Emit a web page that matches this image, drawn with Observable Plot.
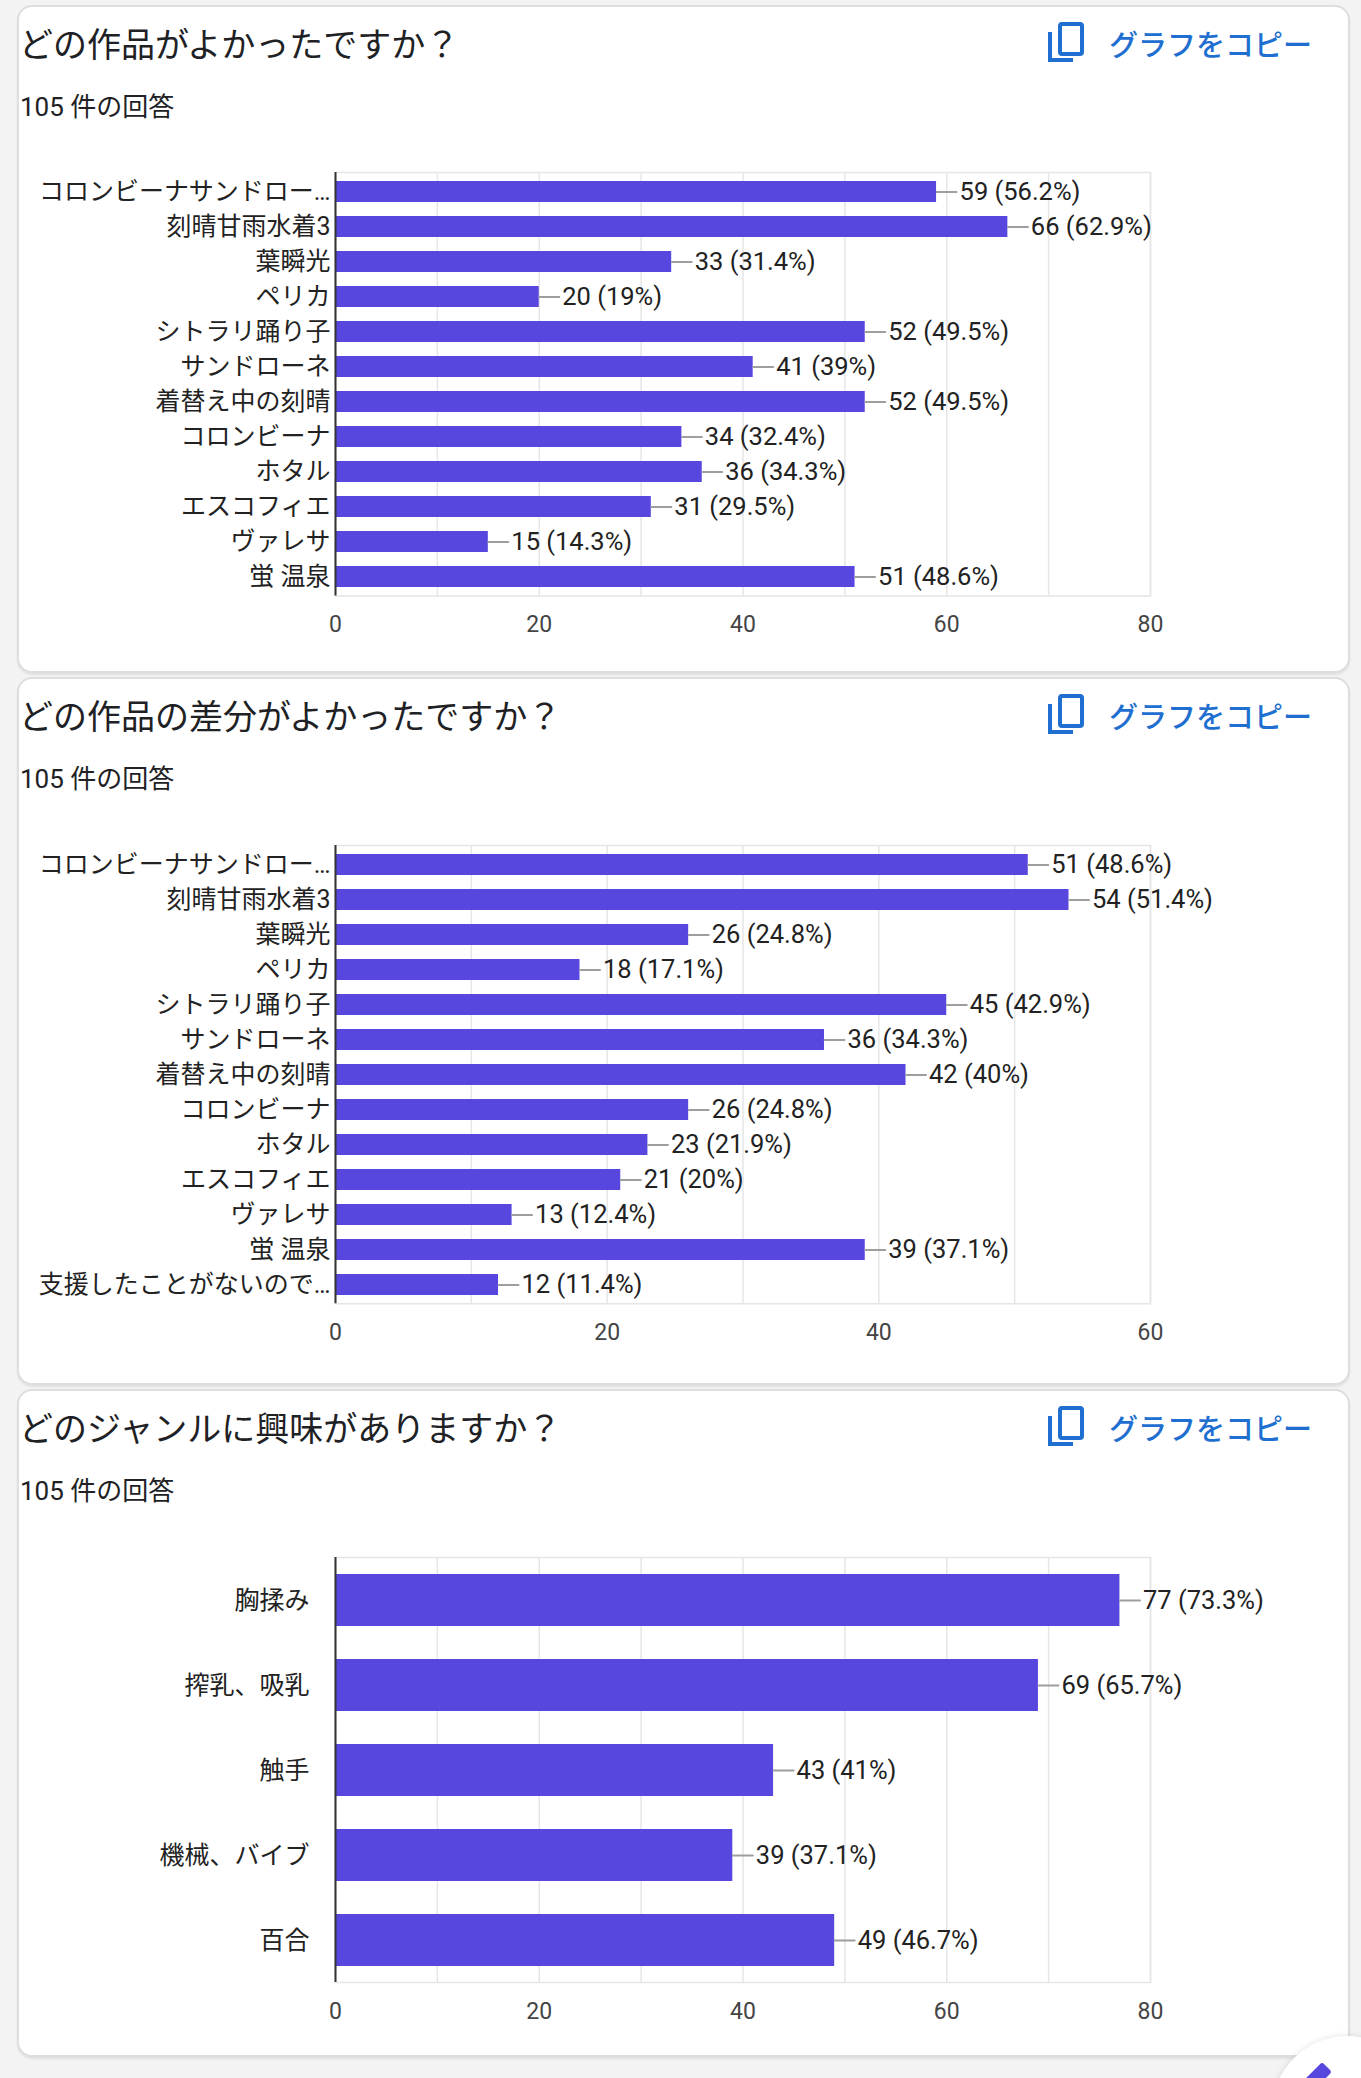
<!DOCTYPE html>
<html>
<head>
<meta charset="utf-8">
<script src="https://cdn.jsdelivr.net/npm/d3@7"></script>
<script src="https://cdn.jsdelivr.net/npm/@observablehq/plot@0.6"></script>
<style>
  html, body { margin: 0; padding: 0; }
  body { width: 1361px; height: 2078px; position: relative; background: #f3f3f3; overflow: hidden;
         font-family: Roboto, "Noto Sans CJK JP", sans-serif; }
  .card { position: absolute; left: 17px; width: 1333px; background: #fff; border: 2px solid #dedede;
          border-radius: 15px; box-sizing: border-box; box-shadow: 0 2px 2px rgba(0,0,0,0.08); }
  .title { position: absolute; left: 0px; font-family: "Noto Sans CJK JP", sans-serif; font-size: 34px; color: #202124; line-height: 1; white-space: nowrap; }
  .sub { position: absolute; left: 1px; font-size: 26px; color: #202124; line-height: 1; white-space: nowrap; }
  .copy { position: absolute; left: 1029px; display: flex; align-items: center; color: #1f6fd0;
          font-family: "Noto Sans CJK JP", sans-serif; font-size: 29px; font-weight: 500; white-space: nowrap; }
  .copy svg { margin-right: 25px; }
  .chart { position: absolute; left: 0; }
  .fab { position: absolute; left: 1272px; top: 2036px; width: 150px; height: 150px; border-radius: 50%;
         background: #fff; box-shadow: 0 0 6px rgba(0,0,0,0.12); }
  .pen { position: absolute; left: 36px; top: 26px; width: 14px; height: 34px; background: #5847df;
         transform: rotate(45deg); border-radius: 3px; }
</style>
</head>
<body>
<div id="root"></div>
<script>
// ---- data ----
const titles = ["どの作品がよかったですか？", "どの作品の差分がよかったですか？", "どのジャンルに興味がありますか？"];
const subtitle = "105 件の回答";
const copyLabel = "グラフをコピー";

const names1 = ["コロンビーナサンドロー…", "刻晴甘雨水着3", "葉瞬光", "ペリカ", "シトラリ踊り子", "サンドローネ", "着替え中の刻晴", "コロンビーナ", "ホタル", "エスコフィエ", "ヴァレサ", "蛍 温泉"];
const counts1 = [59, 66, 33, 20, 52, 41, 52, 34, 36, 31, 15, 51];
const pcts1 = ["56.2", "62.9", "31.4", "19", "49.5", "39", "49.5", "32.4", "34.3", "29.5", "14.3", "48.6"];
const ticks1 = [0, 20, 40, 60, 80];

const names2 = ["コロンビーナサンドロー…", "刻晴甘雨水着3", "葉瞬光", "ペリカ", "シトラリ踊り子", "サンドローネ", "着替え中の刻晴", "コロンビーナ", "ホタル", "エスコフィエ", "ヴァレサ", "蛍 温泉", "支援したことがないので…"];
const counts2 = [51, 54, 26, 18, 45, 36, 42, 26, 23, 21, 13, 39, 12];
const pcts2 = ["48.6", "51.4", "24.8", "17.1", "42.9", "34.3", "40", "24.8", "21.9", "20", "12.4", "37.1", "11.4"];
const ticks2 = [0, 20, 40, 60];

const names3 = ["胸揉み", "搾乳、吸乳", "触手", "機械、バイブ", "百合"];
const counts3 = [77, 69, 43, 39, 49];
const pcts3 = ["73.3", "65.7", "41", "37.1", "46.7"];
const ticks3 = [0, 20, 40, 60, 80];

// ---- layout ----
const W = 1361;
const cards = [
  {top: 5, bottom: 673, gridTop: 172, step: 35.3, pad: 0.4, labelPad: 5, names: names1, counts: counts1, pcts: pcts1, ticks: ticks1},
  {top: 677, bottom: 1385, gridTop: 845, step: 35.25, pad: 0.4, labelPad: 5, names: names2, counts: counts2, pcts: pcts2, ticks: ticks2},
  {top: 1389, bottom: 2057, gridTop: 1557, step: 85, pad: 0.39, labelPad: 26, names: names3, counts: counts3, pcts: pcts3, ticks: ticks3}
];

const copyIcon = `<svg width="36" height="42" viewBox="0 0 36 42"><path d="M2 10 V38 H25" fill="none" stroke="#1f6fd0" stroke-width="4"/><rect x="12" y="2" width="22" height="30" rx="2" fill="none" stroke="#1f6fd0" stroke-width="4"/></svg>`;

cards.forEach((c, i) => {
  const card = document.createElement("div");
  card.className = "card";
  card.style.top = c.top + "px";
  card.style.height = (c.bottom - c.top) + "px";
  card.innerHTML = `<div class="title" style="top:19px">${titles[i]}</div>
    <div class="sub" style="top:87px">${subtitle}</div>
    <div class="copy" style="top:15px">${copyIcon}<span>${copyLabel}</span></div>`;
  document.body.appendChild(card);

  const data = c.names.map((n, k) => ({name: n, count: c.counts[k], pct: c.pcts[k]}));
  const max = c.ticks[c.ticks.length - 1];
  const h = c.names.length * c.step;
  const mt = 10, mb = 60;
  const plot = Plot.plot({
    width: W,
    height: mt + h + mb,
    marginLeft: 335,
    marginRight: W - 1150,
    marginTop: mt,
    marginBottom: mb,
    style: {fontFamily: "Roboto, 'Noto Sans CJK JP', sans-serif", background: "transparent", overflow: "visible"},
    x: {domain: [0, max], axis: null},
    y: {domain: c.names, paddingInner: c.pad, paddingOuter: c.pad / 2, axis: null},
    marks: [
      Plot.gridX({interval: 10, stroke: "#e6e6e6", strokeOpacity: 1, strokeWidth: 1.5}),
      Plot.frame({stroke: "#e6e6e6", strokeWidth: 1.5}),
      Plot.barX(data, {x: "count", y: "name", fill: "#5847df"}),
      Plot.vector(data, {x: "count", y: "name", length: 20, rotate: 90, anchor: "start", r: 0, stroke: "#9e9e9e", strokeWidth: 2}),
      Plot.text(data, {x: "count", y: "name", text: d => `${d.count} (${d.pct}%)`, dx: 23, textAnchor: "start", fontSize: 25.5, fill: "#222"}),
      Plot.ruleX([0], {stroke: "#333", strokeWidth: 2}),
      Plot.axisX({ticks: c.ticks, tickSize: 0, tickPadding: 20, fontSize: 23, color: "#444", label: null}),
      Plot.axisY({tickSize: 0, tickPadding: c.labelPad, fontSize: 25, color: "#222", label: null})
    ]
  });
  plot.classList.add("chart");
  plot.style.top = (c.gridTop - mt) + "px";
  document.body.appendChild(plot);
});

const fab = document.createElement("div");
fab.className = "fab";
fab.innerHTML = '<div class="pen"></div>';
document.body.appendChild(fab);
</script>
</body>
</html>
